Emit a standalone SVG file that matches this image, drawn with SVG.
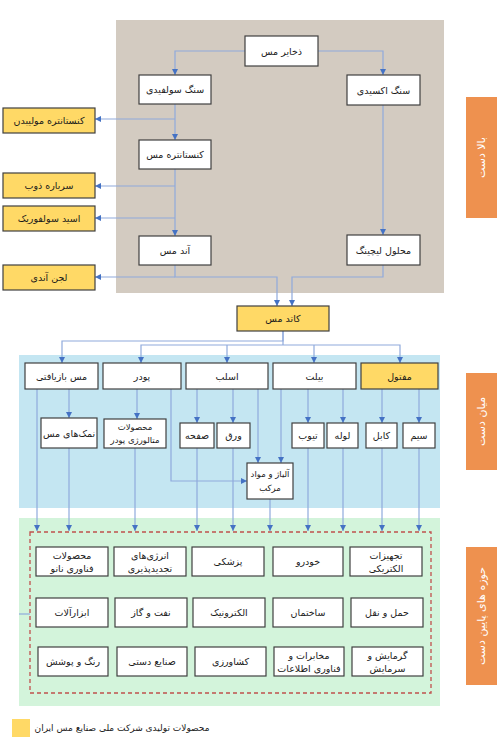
<svg xmlns="http://www.w3.org/2000/svg" width="500" height="750" viewBox="0 0 500 750">
<defs>
<marker id="ar" markerWidth="6" markerHeight="6" refX="6" refY="3" orient="auto" markerUnits="userSpaceOnUse"><path d="M0,0 L6,3 L0,6 z" fill="#4472C4"/></marker>
<style>
.b{fill:#fff;stroke:#404040;stroke-width:1.2}
.y{fill:#FFD966;stroke:#404040;stroke-width:1.2}
.t{font-family:"DejaVu Sans",sans-serif;font-size:9.5px;fill:#1a1a1a;text-anchor:middle;dominant-baseline:central}
.s{font-size:8.5px}
.o{fill:#EE914F}
.ot{font-family:"DejaVu Sans",sans-serif;font-size:11px;fill:#fff;text-anchor:middle;dominant-baseline:central}
.c path{fill:none;stroke:#8FAADC;stroke-width:1.2}
.a{marker-end:url(#ar)}
</style>
</defs>
<rect x="116" y="20" width="328" height="273" fill="#D3CBC1"/>
<rect x="19" y="355" width="421" height="153" fill="#C4E6F2"/>
<rect x="19" y="518" width="421" height="188" fill="#D3F4DB"/>
<rect x="30" y="532" width="401" height="161" fill="none" stroke="#C0504D" stroke-width="1.3" stroke-dasharray="4,3"/>

<g id="lbl-up"><rect class="o" x="466" y="97" width="31" height="121"/><text class="ot" x="481.5" y="157.5" transform="rotate(-90 481.5 157.5)">بالا دست</text></g>
<g id="lbl-mid"><rect class="o" x="466" y="373" width="31" height="97"/><text class="ot" x="481.5" y="421.5" transform="rotate(-90 481.5 421.5)">میان دست</text></g>
<g id="lbl-down"><rect class="o" x="466" y="547" width="31" height="138"/><text class="ot" x="481.5" y="616" transform="rotate(-90 481.5 616)">حوزه های پایین دست</text></g>

<g class="c" id="connectors">
<path class="a" d="M245,51 H175 V75"/>
<path class="a" d="M318,51 H383 V75"/>
<path class="a" d="M175,104 V140"/>
<path class="a" d="M175,119 H95"/>
<path class="a" d="M175,169 V236"/>
<path class="a" d="M175,186 H95"/>
<path class="a" d="M175,218 H95"/>
<path class="a" d="M175,277 H95"/>
<path class="a" d="M175,265 V277 H277 V306"/>
<path class="a" d="M383,105 V235"/>
<path class="a" d="M383,265 V277 H292 V306"/>
<path class="a" d="M283,331 V341 H62 V363"/>
<path d="M283,331 V345"/>
<path class="a" d="M283,345 H141 V363"/>
<path class="a" d="M283,345 H400 V363"/>
<path class="a" d="M227,345 V363"/>
<path class="a" d="M314,345 V363"/>
<path class="a" d="M69,389 V418"/>
<path class="a" d="M137,389 V419"/>
<path class="a" d="M197,389 V423"/>
<path class="a" d="M233,389 V423"/>
<path class="a" d="M258,389 V463"/>
<path class="a" d="M281,389 V463"/>
<path class="a" d="M308,389 V423"/>
<path class="a" d="M343,389 V423"/>
<path class="a" d="M382,389 V423"/>
<path class="a" d="M419,389 V423"/>
<path class="a" d="M171,389 V481 H247"/>
<path class="a" d="M37,389 V531"/>
<path class="a" d="M69,448 V531"/>
<path class="a" d="M135,448 V531"/>
<path class="a" d="M197,448 V531"/>
<path class="a" d="M233,448 V531"/>
<path class="a" d="M270,499 V531"/>
<path class="a" d="M308,448 V531"/>
<path class="a" d="M343,448 V531"/>
<path class="a" d="M382,448 V531"/>
<path class="a" d="M419,448 V531"/>
<path d="M19,614 H30"/>
</g>

<g id="n-zakhayer"><rect class="b" x="245" y="36" width="73" height="30"/><text class="t" x="281.5" y="51">ذخایر مس</text></g>
<g id="n-sulfidi"><rect class="b" x="139" y="75" width="72" height="29"/><text class="t" x="175" y="89.5">سنگ سولفیدی</text></g>
<g id="n-oxidi"><rect class="b" x="347" y="75" width="73" height="30"/><text class="t" x="383.5" y="90">سنگ اکسیدی</text></g>
<g id="n-molib"><rect class="y" x="3" y="108" width="92" height="25"/><text class="t" x="49" y="120.5">کنستانتره مولیبدن</text></g>
<g id="n-konsantre"><rect class="b" x="139" y="140" width="72" height="29"/><text class="t" x="175" y="154.5">کنستانتره مس</text></g>
<g id="n-sarbare"><rect class="y" x="3" y="173" width="92" height="25"/><text class="t" x="49" y="185.5">سرباره ذوب</text></g>
<g id="n-asid"><rect class="y" x="3" y="206" width="92" height="25"/><text class="t" x="49" y="218.5">اسید سولفوریک</text></g>
<g id="n-anod"><rect class="b" x="139" y="236" width="72" height="29"/><text class="t" x="175" y="250.5">آند مس</text></g>
<g id="n-lajan"><rect class="y" x="3" y="265" width="92" height="25"/><text class="t" x="49" y="277.5">لجن آندی</text></g>
<g id="n-liching"><rect class="b" x="347" y="235" width="73" height="30"/><text class="t" x="383.5" y="250">محلول لیچینگ</text></g>
<g id="n-katod"><rect class="y" x="237" y="306" width="92" height="25"/><text class="t" x="283" y="318.5">کاتد مس</text></g>

<g id="n-bazyafti"><rect class="b" x="25" y="363" width="73" height="26"/><text class="t" x="61.5" y="376">مس بازیافتی</text></g>
<g id="n-pudr"><rect class="b" x="103" y="363" width="78" height="26"/><text class="t" x="142" y="376">پودر</text></g>
<g id="n-eslab"><rect class="b" x="186" y="363" width="82" height="26"/><text class="t" x="227" y="376">اسلب</text></g>
<g id="n-bilet"><rect class="b" x="273" y="363" width="83" height="26"/><text class="t" x="314.5" y="376">بیلت</text></g>
<g id="n-maftul"><rect class="y" x="361" y="363" width="77" height="26"/><text class="t" x="399.5" y="376">مفتول</text></g>

<g id="n-namak"><rect class="b" x="41" y="418" width="56" height="30"/><text class="t" x="69" y="433">نمک‌های مس</text></g>
<g id="n-metal"><rect class="b" x="104" y="419" width="62" height="29"/><text class="t s" x="135" y="427">محصولات</text><text class="t s" x="135" y="440">متالورژی پودر</text></g>
<g id="n-safhe"><rect class="b" x="180" y="423" width="34" height="25"/><text class="t" x="197" y="435.5">صفحه</text></g>
<g id="n-varagh"><rect class="b" x="217" y="423" width="33" height="25"/><text class="t" x="233.5" y="435.5">ورق</text></g>
<g id="n-tiub"><rect class="b" x="292" y="423" width="32" height="25"/><text class="t" x="308" y="435.5">تیوب</text></g>
<g id="n-lule"><rect class="b" x="327" y="423" width="31" height="25"/><text class="t" x="342.5" y="435.5">لوله</text></g>
<g id="n-kabl"><rect class="b" x="366" y="423" width="31" height="25"/><text class="t" x="381.5" y="435.5">کابل</text></g>
<g id="n-sim"><rect class="b" x="403" y="423" width="32" height="25"/><text class="t" x="419" y="435.5">سیم</text></g>
<g id="n-aliaj"><rect class="b" x="247" y="463" width="46" height="36"/><text class="t s" x="270" y="474">آلیاژ و مواد</text><text class="t s" x="270" y="488">مرکب</text></g>

<g id="n-nano"><rect class="b" x="36" y="547" width="72" height="29"/><text class="t" x="72" y="555">محصولات</text><text class="t" x="72" y="568">فناوری نانو</text></g>
<g id="n-energy"><rect class="b" x="114" y="547" width="72" height="29"/><text class="t" x="150" y="555">انرژی‌های</text><text class="t" x="150" y="568">تجدیدپذیری</text></g>
<g id="n-pezeshki"><rect class="b" x="192" y="547" width="72" height="29"/><text class="t" x="228" y="561.5">پزشکی</text></g>
<g id="n-khodro"><rect class="b" x="273" y="547" width="70" height="29"/><text class="t" x="308" y="561.5">خودرو</text></g>
<g id="n-tajhizat"><rect class="b" x="350" y="547" width="72" height="29"/><text class="t" x="386" y="555">تجهیزات</text><text class="t" x="386" y="568">الکتریکی</text></g>

<g id="n-abzar"><rect class="b" x="36" y="598" width="72" height="29"/><text class="t" x="72" y="612.5">ابزارآلات</text></g>
<g id="n-naft"><rect class="b" x="115" y="598" width="72" height="29"/><text class="t" x="151" y="612.5">نفت و گاز</text></g>
<g id="n-electronic"><rect class="b" x="193" y="598" width="72" height="29"/><text class="t" x="229" y="612.5">الکترونیک</text></g>
<g id="n-sakhteman"><rect class="b" x="273" y="598" width="70" height="29"/><text class="t" x="308" y="612.5">ساختمان</text></g>
<g id="n-haml"><rect class="b" x="351" y="598" width="72" height="29"/><text class="t" x="387" y="612.5">حمل و نقل</text></g>

<g id="n-rang"><rect class="b" x="38" y="647" width="70" height="29"/><text class="t" x="73" y="661.5">رنگ و پوشش</text></g>
<g id="n-sanaye"><rect class="b" x="117" y="647" width="70" height="29"/><text class="t" x="152" y="661.5">صنایع دستی</text></g>
<g id="n-keshavarzi"><rect class="b" x="195" y="647" width="71" height="29"/><text class="t" x="230.5" y="661.5">کشاورزی</text></g>
<g id="n-mokhaberat"><rect class="b" x="274" y="647" width="70" height="29"/><text class="t" x="309" y="655">مخابرات و</text><text class="t" x="309" y="668">فناوری اطلاعات</text></g>
<g id="n-garmayesh"><rect class="b" x="352" y="647" width="71" height="29"/><text class="t" x="387.5" y="655">گرمایش و</text><text class="t" x="387.5" y="668">سرمایش</text></g>

<g id="legend"><rect x="12" y="719" width="18" height="18" fill="#FFD966"/><text class="t" x="122" y="728" style="font-size:9px">محصولات تولیدی شرکت ملی صنایع مس ایران</text></g>
</svg>
